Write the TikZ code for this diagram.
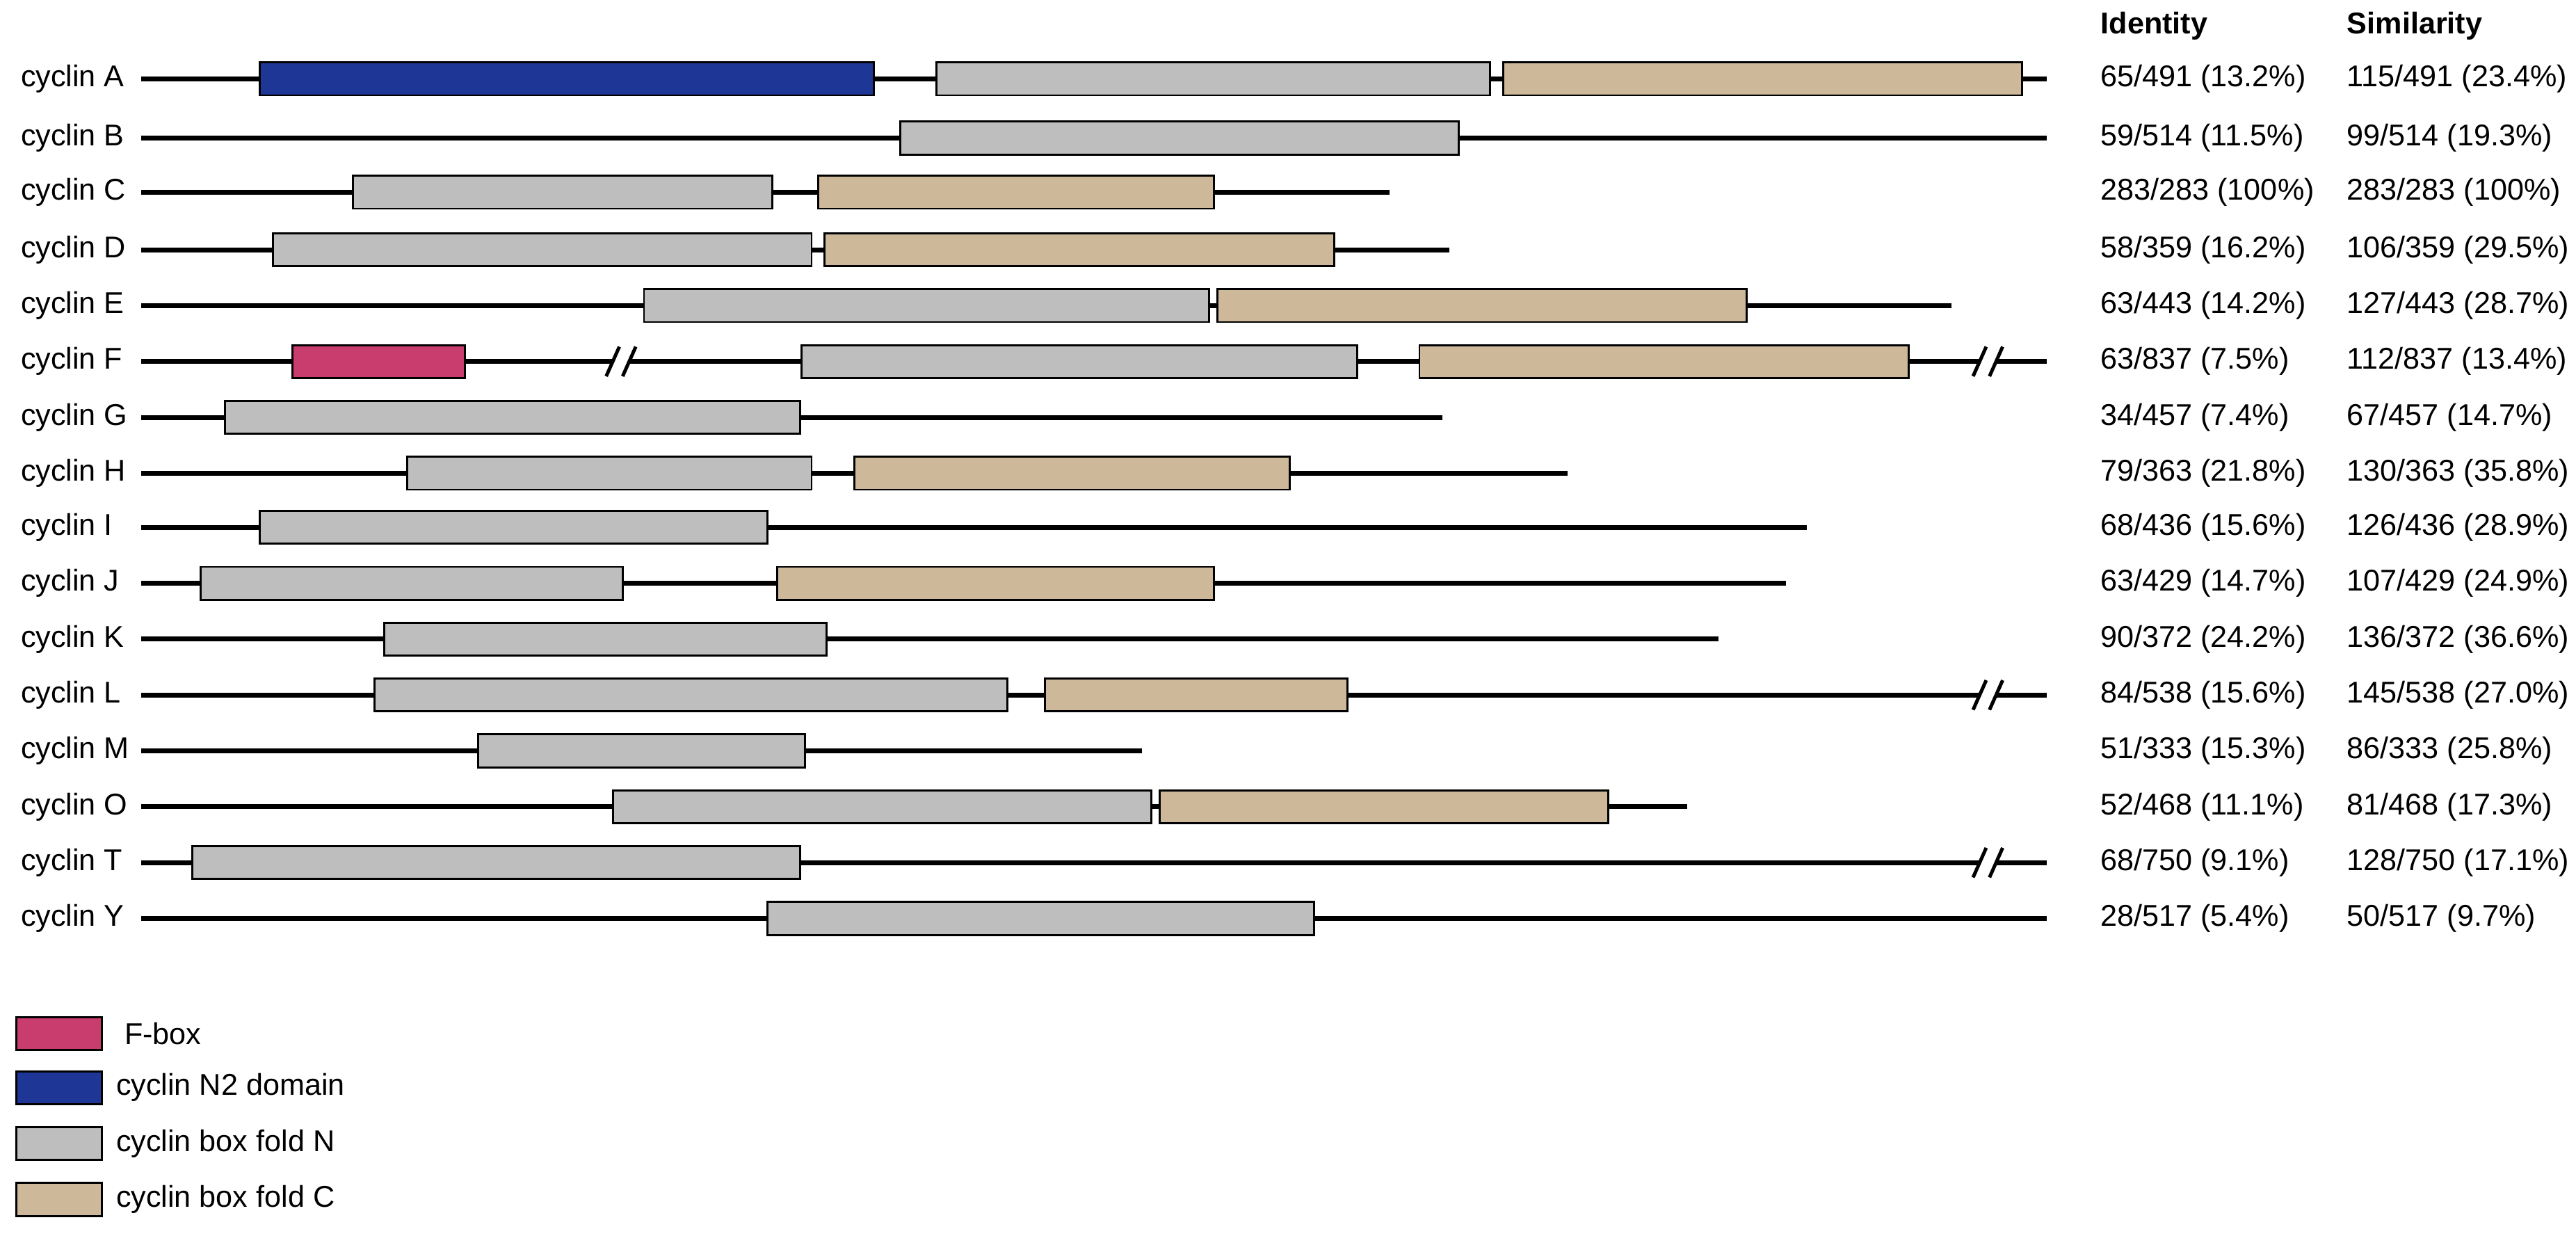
\documentclass[tikz,border=0pt]{standalone}
\usepackage{fontspec}
\setmainfont{Liberation Sans}
\definecolor{fbox}{RGB}{200,60,110}
\definecolor{ntwo}{RGB}{30,55,150}
\definecolor{foldn}{RGB}{190,190,190}
\definecolor{foldc}{RGB}{205,184,154}
\begin{document}
\begin{tikzpicture}[x=0.1mm,y=-0.1mm,font=\fontsize{5.2}{6}\selectfont]
  \tikzstyle{chain}=[line width=0.85pt]
  \tikzstyle{dom}=[draw=black,line width=0.35pt]
  \tikzstyle{lab}=[anchor=west,inner sep=0pt]
  \useasboundingbox (0,0) rectangle (1568,752);

  % backbones and labels
  \foreach \name/\y/\e/\id/\sim in {A/48/1246/{65/491 (13.2\%)}/{115/491 (23.4\%)},
      B/84/1246/{59/514 (11.5\%)}/{99/514 (19.3\%)}, C/117/846/{283/283 (100\%)}/{283/283 (100\%)},
      D/152/882/{58/359 (16.2\%)}/{106/359 (29.5\%)}, E/186/1188/{63/443 (14.2\%)}/{127/443 (28.7\%)},
      F/220/1246/{63/837 (7.5\%)}/{112/837 (13.4\%)}, G/254/878/{34/457 (7.4\%)}/{67/457 (14.7\%)},
      H/288/954/{79/363 (21.8\%)}/{130/363 (35.8\%)}, I/321/1100/{68/436 (15.6\%)}/{126/436 (28.9\%)},
      J/355/1087/{63/429 (14.7\%)}/{107/429 (24.9\%)}, K/389/1046/{90/372 (24.2\%)}/{136/372 (36.6\%)},
      L/423/1246/{84/538 (15.6\%)}/{145/538 (27.0\%)}, M/457/695/{51/333 (15.3\%)}/{86/333 (25.8\%)},
      O/491/1027/{52/468 (11.1\%)}/{81/468 (17.3\%)}, T/525/1246/{68/750 (9.1\%)}/{128/750 (17.1\%)},
      Y/559/1246/{28/517 (5.4\%)}/{50/517 (9.7\%)}} {
    \node[lab] (n-\name) at (12,\y) {cyclin \name};
    \coordinate (s-\name) at (86,\y);
    \coordinate (e-\name) at (\e,\y);
    \draw[chain] (s-\name) -- (e-\name);
    \node[lab] (id-\name) at (1278,\y) {\id};
    \node[lab] (sim-\name) at (1428,\y) {\sim};
  }
  \node[lab,font=\fontsize{5.2}{6}\selectfont\bfseries] (hid) at (1278,16) {Identity};
  \node[lab,font=\fontsize{5.2}{6}\selectfont\bfseries] (hsim) at (1428,16) {Similarity};

  % domains
  \foreach \y/\a/\b/\c in {48/158/532/ntwo, 48/570/907/foldn, 48/915/1231/foldc,
      84/548/888/foldn, 117/215/470/foldn, 117/498/739/foldc,
      152/166/494/foldn, 152/502/812/foldc, 186/392/736/foldn, 186/741/1063/foldc,
      220/178/283/fbox, 220/488/826/foldn, 220/864/1162/foldc, 254/137/487/foldn,
      288/248/494/foldn, 288/520/785/foldc, 321/158/467/foldn,
      355/122/379/foldn, 355/473/739/foldc, 389/234/503/foldn,
      423/228/613/foldn, 423/636/820/foldc, 457/291/490/foldn,
      491/373/701/foldn, 491/706/979/foldc, 525/117/487/foldn, 559/467/800/foldn}
    \draw[dom,fill=\c] (\a,\y-10) rectangle (\b,\y+10);

  % breaks
  \foreach \x/\y in {378/220, 1210/220, 1210/423, 1210/525} {
    \fill[white] (\x-5,\y-3) rectangle (\x+5,\y+3);
    \draw[line width=0.6pt] (\x-9,\y+9) -- (\x-1,\y-9) (\x+1,\y+9) -- (\x+9,\y-9);
  }

  % legend
  \foreach \y/\c/\t in {629/fbox/{\ F-box}, 662/ntwo/cyclin N2 domain,
      696/foldn/cyclin box fold N, 730/foldc/cyclin box fold C} {
    \draw[dom,fill=\c] (10,\y-10) rectangle (62,\y+10);
    \node[lab] at (70,\y) {\t};
  }
\end{tikzpicture}
\end{document}
